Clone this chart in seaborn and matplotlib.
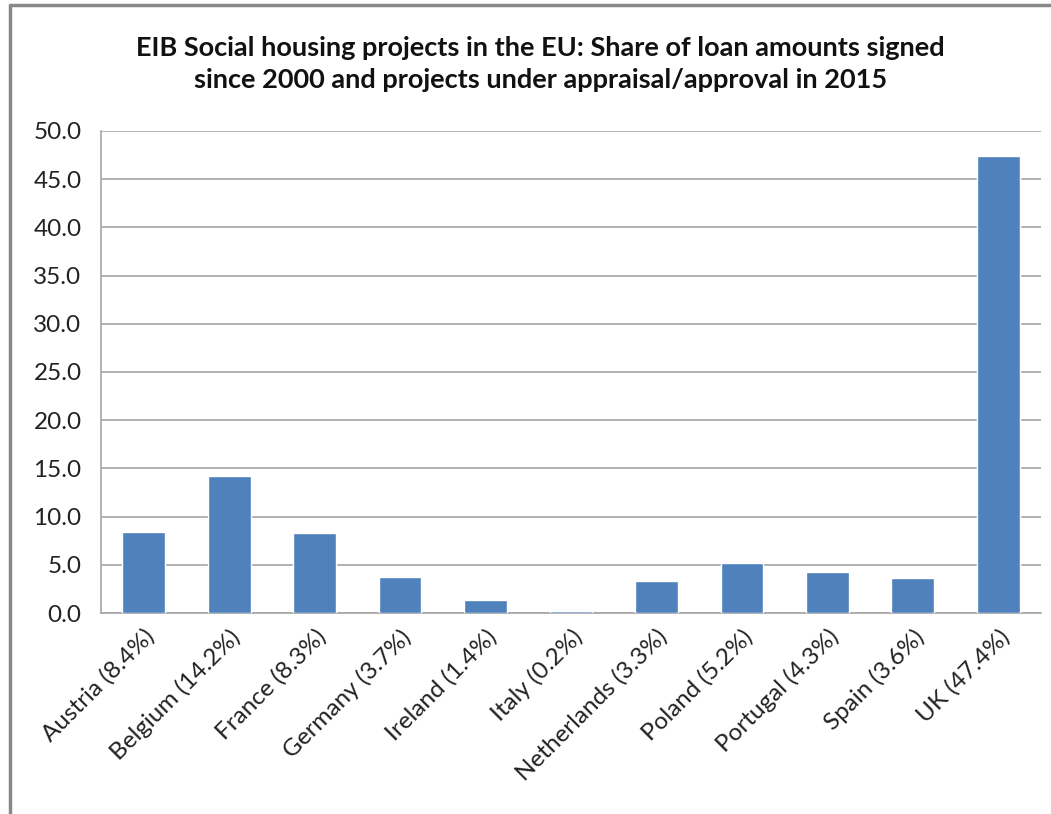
import matplotlib
matplotlib.use("Agg")
import matplotlib.pyplot as plt
from matplotlib.lines import Line2D
from matplotlib.ticker import FixedLocator
import pandas as pd
import seaborn as sns

# data
countries = ["Austria (8.4%)", "Belgium (14.2%)", "France (8.3%)", "Germany (3.7%)",
             "Ireland (1.4%)", "Italy (0.2%)", "Netherlands (3.3%)", "Poland (5.2%)",
             "Portugal (4.3%)", "Spain (3.6%)", "UK (47.4%)"]
shares = [8.4, 14.2, 8.3, 3.7, 1.4, 0.2, 3.3, 5.2, 4.3, 3.6, 47.4]
title = ("EIB Social housing projects in the EU: Share of loan amounts signed\n"
         "since 2000 and projects under appraisal/approval in 2015")

bar_color = "#4F81BD"
grid_color = "#A6A6A6"

sns.set_style("white")
plt.rcParams["font.family"] = ["Lato", "DejaVu Sans"]

df = pd.DataFrame({"country": countries, "share": shares})

fig = plt.figure(figsize=(10.51, 8.14), dpi=100)
ax = fig.add_axes([0.0961, 0.2469, 0.8944, 0.5922])

sns.barplot(data=df, x="country", y="share", color=bar_color, width=0.5,
            saturation=1, ax=ax, zorder=3)

ax.set_ylim(0, 50)
ax.set_xlim(-0.5, len(countries) - 0.5)
yt = [i * 5 for i in range(11)]
ax.set_yticks(yt)
ax.set_yticklabels([f"{v:.1f}" for v in yt])
ax.grid(axis="y", color=grid_color, linewidth=1.2, zorder=0)
ax.set_axisbelow(True)
ax.set_xlabel("")
ax.set_ylabel("")

# category boundary ticks on x axis
ax.xaxis.set_minor_locator(FixedLocator([i - 0.5 for i in range(len(countries) + 1)]))
ax.tick_params(axis="x", which="major", length=0, labelsize=17.5, pad=9, colors="#222222")
ax.tick_params(axis="x", which="minor", length=9, width=1.2, color=grid_color)
ax.tick_params(axis="y", which="major", length=9, width=1.2, color=grid_color,
               labelsize=17.5, pad=5, labelcolor="#222222")
plt.setp(ax.get_xticklabels(), rotation=45, ha="right", rotation_mode="anchor")

for side in ["top", "right"]:
    ax.spines[side].set_visible(False)
for side in ["left", "bottom"]:
    ax.spines[side].set_color(grid_color)
    ax.spines[side].set_linewidth(1.2)

fig.text(0.514, 0.921, title, ha="center", va="center", fontsize=19.5,
         fontweight="bold", linespacing=1.4, color="#111111")

# outer chart frame (top and left edges visible in reference)
fig.add_artist(Line2D([0.0095, 1.0], [0.994, 0.994], color="#888888", linewidth=2.5,
                      transform=fig.transFigure))
fig.add_artist(Line2D([0.0095, 0.0095], [0.0, 0.994], color="#888888", linewidth=2.5,
                      transform=fig.transFigure))

fig.savefig("out.png", dpi=100)
